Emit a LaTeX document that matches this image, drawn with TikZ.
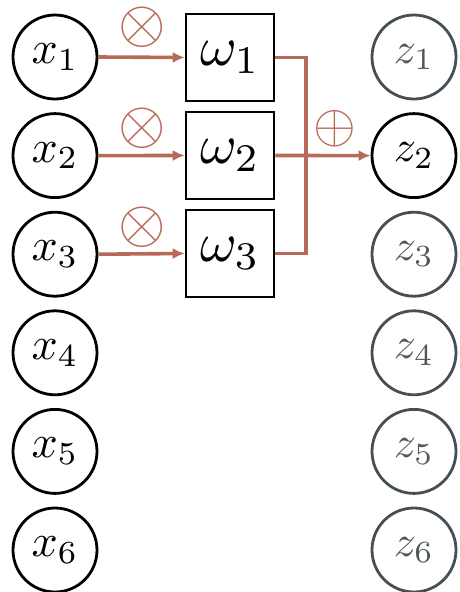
\documentclass[tikz,border=0pt]{standalone}
\usepackage{graphicx}
\usetikzlibrary{arrows.meta}
\definecolor{brn}{HTML}{B86A58}
\definecolor{slate}{HTML}{454F55}
\definecolor{zgray}{HTML}{50585C}
\newcommand{\myscm}[2]{\scalebox{#1}{$#2$}}
\begin{document}
\begin{tikzpicture}[x=1pt,y=-1pt,
  xnode/.style={circle,draw=black,line width=2.8pt,minimum size=84pt,inner sep=0pt},
  znode/.style={circle,draw=slate,line width=2.8pt,minimum size=84pt,inner sep=0pt,text=zgray},
  zact/.style={draw=black,text=black},
  wbox/.style={rectangle,draw=black,line width=2.6pt,minimum width=88pt,minimum height=87pt,inner sep=0pt},
  conn/.style={draw=brn,line width=3.6pt},
  arr/.style={conn,-{Latex[length=12pt,width=11pt]}},
  opsym/.style={text=brn,inner sep=0pt}]
\useasboundingbox (0,0) rectangle (460,592);
\foreach \i/\y in {1/57,2/155.6,3/254.2,4/352.8,5/451.4,6/550}{
  \node[xnode] (x\i) at (55,\y) {\myscm{4.6}{x_{\i}}};
}
\foreach \i/\y in {1/57,3/254.2,4/352.8,5/451.4,6/550}{
  \node[znode] (z\i) at (414,\y) {\myscm{4.4}{z_{\i}}};
}
\node[znode,zact] (z2) at (414,155.6) {\myscm{4.4}{z_{2}}};
\foreach \i/\y in {1/57.5,2/155.5,3/253.5}{
  \node[wbox] (w\i) at (230,\y) {\myscm{5.6}{\omega_{\i}}};
  \draw[arr] (x\i.east) -- (w\i.west);
}
\node[opsym] (m1) at (142,27) {\myscm{6.1}{\otimes}};
\node[opsym] (m2) at (142,128) {\myscm{6.1}{\otimes}};
\node[opsym] (m3) at (142,227) {\myscm{6.1}{\otimes}};
\node[opsym] (s) at (334.5,129) {\myscm{5.5}{\oplus}};
\coordinate (t1) at (306,57.5);
\coordinate (t3) at (306,253.5);
\draw[conn] (w1.east) -- (t1) -- (t3) -- (w3.east);
\draw[arr] (w2.east) -- (z2.west);
\end{tikzpicture}
\end{document}
